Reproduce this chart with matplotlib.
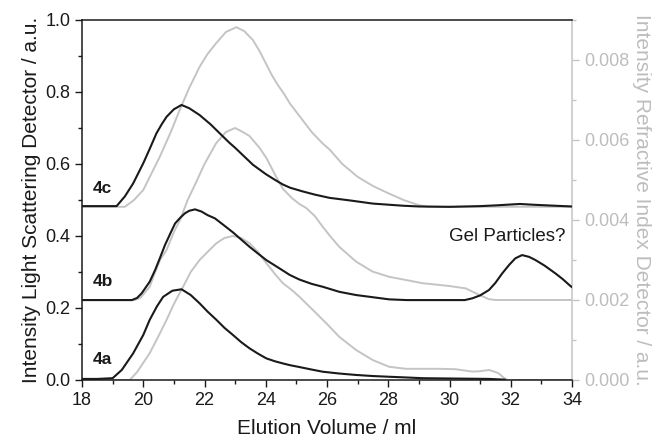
import matplotlib
matplotlib.use("Agg")
import matplotlib.pyplot as plt
from matplotlib.ticker import MultipleLocator, FormatStrFormatter

plt.rcParams['font.family'] = ['Liberation Sans', 'DejaVu Sans']

# ---- data: light scattering (left axis) ----
ls_4a_x = [18.0, 18.5, 19.0, 19.3, 19.67, 20.0, 20.21, 20.45, 20.65, 20.95, 21.25, 21.55, 21.84, 22.1,
           22.39, 22.65, 22.93, 23.2, 23.47, 23.75, 24.02, 24.3, 24.56, 24.8, 25.1, 25.5, 25.86, 26.4,
           26.95, 27.5, 28.03, 28.6, 29.12, 30.2, 31.29, 31.8]
ls_4a_y = [0.003, 0.003, 0.005, 0.028, 0.074, 0.125, 0.167, 0.205, 0.231, 0.248, 0.252, 0.236, 0.213, 0.19,
           0.167, 0.145, 0.125, 0.105, 0.088, 0.073, 0.06, 0.052, 0.046, 0.041, 0.036, 0.029, 0.023, 0.018,
           0.014, 0.011, 0.009, 0.007, 0.005, 0.004, 0.003, 0.001]

ls_4b_x = [18.0, 19.63, 19.8, 19.95, 20.21, 20.39, 20.55, 20.71, 20.9, 21.04, 21.2, 21.36, 21.5, 21.69,
           21.9, 22.1, 22.34, 22.6, 22.93, 23.2, 23.47, 23.75, 24.02, 24.3, 24.56, 24.78, 25.1, 25.5,
           25.86, 26.4, 26.95, 27.49, 28.03, 28.6, 30.5, 30.75, 31.0, 31.29, 31.5, 31.72, 31.95, 32.15,
           32.37, 32.6, 32.81, 33.1, 33.46, 33.7, 33.95, 34.0]
ls_4b_y = [0.222, 0.222, 0.228, 0.241, 0.273, 0.306, 0.34, 0.375, 0.41, 0.435, 0.45, 0.463, 0.47, 0.474,
           0.468, 0.458, 0.449, 0.432, 0.41, 0.39, 0.37, 0.351, 0.333, 0.318, 0.304, 0.292, 0.279, 0.267,
           0.259, 0.245, 0.236, 0.23, 0.224, 0.222, 0.222, 0.227, 0.235, 0.25, 0.27, 0.296, 0.32, 0.338,
           0.347, 0.342, 0.333, 0.318, 0.296, 0.28, 0.261, 0.258]

ls_4c_x = [18.0, 19.13, 19.4, 19.67, 20.0, 20.2, 20.43, 20.6, 20.76, 21.0, 21.25, 21.5, 21.84, 22.2,
           22.5, 22.8, 23.0, 23.58, 24.0, 24.3, 24.56, 24.8, 25.2, 25.6, 26.08, 26.73, 27.5, 28.0,
           28.5, 29.0, 30.0, 31.0, 31.5, 32.3, 32.7, 33.2, 34.0]
ls_4c_y = [0.483, 0.483, 0.51, 0.546, 0.602, 0.64, 0.685, 0.71, 0.731, 0.752, 0.764, 0.755, 0.736, 0.71,
           0.685, 0.66, 0.645, 0.598, 0.572, 0.556, 0.543, 0.534, 0.524, 0.515, 0.506, 0.499, 0.49, 0.487,
           0.484, 0.482, 0.481, 0.483, 0.485, 0.489, 0.487, 0.485, 0.482]

# ---- data: refractive index (right axis) ----
ri_4a_x = [18.0, 19.56, 19.8, 20.21, 20.5, 20.76, 21.0, 21.3, 21.55, 21.84, 22.1, 22.39, 22.65, 22.93,
           23.2, 23.47, 23.75, 24.02, 24.3, 24.56, 24.85, 25.1, 25.54, 26.0, 26.4, 26.95, 27.49, 28.03,
           28.58, 29.66, 30.2, 30.74, 31.0, 31.29, 31.5, 31.6, 31.78, 31.9, 34.0]
ri_4a_y = [0.0, 0.0, 0.0002, 0.00067, 0.0011, 0.0015, 0.0019, 0.00233, 0.0027, 0.003, 0.0032, 0.00342,
           0.00355, 0.0036, 0.00355, 0.00342, 0.0032, 0.00292, 0.00265, 0.00242, 0.00225, 0.00208,
           0.00175, 0.0014, 0.00108, 0.00075, 0.0005, 0.00033, 0.00028, 0.00028, 0.00027, 0.00021,
           0.00022, 0.00025, 0.0002, 0.00017, 0.00005, 0.0, 0.0]

ri_4b_x = [18.0, 19.7, 19.9, 20.21, 20.39, 20.55, 20.76, 21.0, 21.2, 21.45, 21.7, 22.0, 22.38, 22.7,
           23.0, 23.25, 23.47, 23.8, 24.02, 24.34, 24.56, 24.85, 25.1, 25.32, 25.6, 25.86, 26.1, 26.4,
           26.95, 27.49, 28.03, 28.58, 29.12, 29.99, 30.53, 30.96, 31.29, 31.5, 34.0]
ri_4b_y = [0.002, 0.002, 0.00205, 0.00233, 0.0027, 0.003, 0.00325, 0.0037, 0.004, 0.0045, 0.0049,
           0.0054, 0.00592, 0.0062, 0.0063, 0.0062, 0.0061, 0.0058, 0.00555, 0.00508, 0.00478, 0.00455,
           0.0044, 0.0043, 0.0041, 0.00383, 0.0036, 0.00333, 0.00296, 0.00271, 0.00258, 0.0025, 0.00242,
           0.00235, 0.00229, 0.00213, 0.00202, 0.002, 0.002]

ri_4c_x = [18.0, 19.4, 19.7, 20.0, 20.54, 20.9, 21.19, 21.5, 21.84, 22.1, 22.38, 22.7, 23.04, 23.3,
           23.58, 23.8, 24.0, 24.2, 24.4, 24.6, 24.8, 25.1, 25.5, 25.85, 26.1, 26.5, 27.0, 27.5,
           28.0, 28.5, 29.0, 29.3, 34.0]
ri_4c_y = [0.00433, 0.00433, 0.0045, 0.00475, 0.00558, 0.0062, 0.00675, 0.0073, 0.00783, 0.00815,
           0.00842, 0.0087, 0.00882, 0.00872, 0.0085, 0.00822, 0.00792, 0.00762, 0.00737, 0.00715, 0.0069,
           0.0066, 0.0062, 0.00592, 0.00575, 0.0054, 0.00508, 0.00485, 0.00467, 0.0045, 0.00437,
           0.00433, 0.00433]

sample_labels = ["4a", "4b", "4c"]
sample_label_y = [0.057, 0.273, 0.532]

GREY = "#c4c4c4"
TEXT_GREY = "#bdbdbd"
BLACK = "#1a1a1a"

fig = plt.figure(figsize=(6.62, 4.42), dpi=100)
ax = fig.add_axes([82 / 662, 62 / 442, 490 / 662, 360 / 442])
ax2 = ax.twinx()

for xs, ys in [(ri_4a_x, ri_4a_y), (ri_4b_x, ri_4b_y), (ri_4c_x, ri_4c_y)]:
    ax2.plot(xs, ys, color=GREY, lw=1.4, solid_joinstyle='round')
for xs, ys in [(ls_4a_x, ls_4a_y), (ls_4b_x, ls_4b_y), (ls_4c_x, ls_4c_y)]:
    ax.plot(xs, ys, color=BLACK, lw=1.5, solid_joinstyle='round')

ax.set_zorder(ax2.get_zorder() + 1)
ax.patch.set_visible(False)

ax.set_xlim(18, 34)
ax.set_ylim(0, 1.0)
ax2.set_ylim(0, 0.009)

ax.xaxis.set_major_locator(MultipleLocator(2))
ax.xaxis.set_minor_locator(MultipleLocator(1))
ax.yaxis.set_major_locator(MultipleLocator(0.2))
ax.yaxis.set_minor_locator(MultipleLocator(0.1))
ax.yaxis.set_major_formatter(FormatStrFormatter('%.1f'))
ax2.yaxis.set_major_locator(MultipleLocator(0.002))
ax2.yaxis.set_minor_locator(MultipleLocator(0.001))
ax2.yaxis.set_major_formatter(FormatStrFormatter('%.3f'))

ax.tick_params(axis='both', which='major', direction='out', length=5, width=1, labelsize=13, colors=BLACK)
ax.tick_params(axis='both', which='minor', direction='out', length=3, width=1, colors=BLACK)
ax.tick_params(axis='y', right=False)
ax.tick_params(axis='x', top=False, which='both')
ax2.tick_params(axis='y', which='major', direction='out', length=5, width=1, labelsize=13,
                colors=GREY, labelcolor=TEXT_GREY)
ax2.tick_params(axis='y', which='minor', direction='out', length=3, width=1, colors=GREY)

for s in ['left', 'bottom', 'top']:
    ax.spines[s].set_color(BLACK)
    ax.spines[s].set_linewidth(1.1)
ax.spines['right'].set_visible(False)
for s in ['left', 'bottom', 'top']:
    ax2.spines[s].set_visible(False)
ax2.spines['right'].set_color(GREY)
ax2.spines['right'].set_linewidth(1.1)

ax.set_xlabel("Elution Volume / ml", fontsize=15, color=BLACK, labelpad=7)
ax.set_ylabel("Intensity Light Scattering Detector / a.u.", fontsize=15, color=BLACK, labelpad=3)
ax2.set_ylabel("Intensity Refractive Index Detector / a.u.", fontsize=15, color=TEXT_GREY,
               rotation=270, labelpad=16)

for lab, yy in zip(sample_labels, sample_label_y):
    ax.text(18.36, yy, lab, fontsize=12.5, fontweight='bold', color=BLACK, ha='left', va='center')

ax.text(33.8, 0.398, "Gel Particles?", fontsize=13.5, color=BLACK, ha='right', va='center')

fig.savefig("out.png", dpi=100)
